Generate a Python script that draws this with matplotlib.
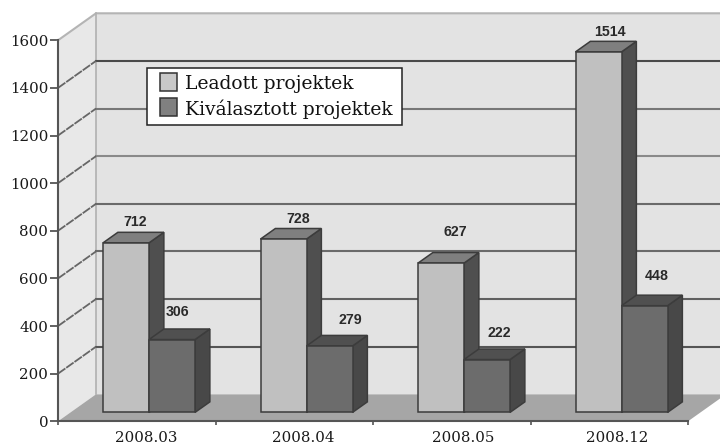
import matplotlib
matplotlib.use('Agg')
import matplotlib.pyplot as plt
from matplotlib.patches import Polygon, Rectangle

months = ['2008.03', '2008.04', '2008.05', '2008.12']
leadott = [712, 728, 627, 1514]
kivalasztott = [306, 279, 222, 448]
y_ticks = [0, 200, 400, 600, 800, 1000, 1200, 1400, 1600]
legend_labels = ['Leadott projektek', 'Kiválasztott projektek']

# pixel offsets of the value labels from the top left of each bar front
leadott_off = [(32, 21), (38, 20), (37, 31), (34, 20)]
kivalasztott_off = [(28, 28), (44, 26), (35, 27), (35, 30)]

W, H = 720, 447
AX_L, AX_B, AX_W, AX_H = 58, 25.7, 630, 381
PX_X = 4 / AX_W          # data units per pixel
PX_Y = 1600 / AX_H
DX, DY = 38 * PX_X, 27 * PX_Y   # chart depth
BAR_W = 46 * PX_X
MARGIN = 32.5 * PX_X
Z0, Z1 = 0.33, 0.72      # bar depth, as a share of chart depth

fig = plt.figure(figsize=(W / 100, H / 100), dpi=100, facecolor='white')
ax = fig.add_axes([AX_L / W, AX_B / H, AX_W / W, AX_H / H])
ax.set_xlim(0, 4)
ax.set_ylim(0, 1600)
ax.patch.set_visible(False)


def poly(points, color, z, edge='none', lw=0):
    ax.add_patch(Polygon(points, closed=True, facecolor=color, edgecolor=edge,
                         linewidth=lw, zorder=z, clip_on=False))


def bar3d(x, value, front, side, top, z):
    x0 = x + Z0 * DX
    x1 = x0 + BAR_W
    y0 = Z0 * DY
    y1 = y0 + value
    dx = (Z1 - Z0) * DX
    dy = (Z1 - Z0) * DY
    edge = '#3c3c3c'
    poly([(x1, y0), (x1 + dx, y0 + dy), (x1 + dx, y1 + dy), (x1, y1)], side, z, edge, 1.1)
    poly([(x0, y1), (x1, y1), (x1 + dx, y1 + dy), (x0 + dx, y1 + dy)], top, z, edge, 1.1)
    poly([(x0, y0), (x1, y0), (x1, y1), (x0, y1)], front, z, edge, 1.1)
    return x0, y1


def value_label(value, anchor, off):
    ax.annotate(str(value), anchor, xytext=(off[0] * 0.72, off[1] * 0.72),
                textcoords='offset points', ha='center', va='center', fontsize=10.2,
                fontweight='bold', family='Liberation Sans', color='#2a2a2a', zorder=10,
                annotation_clip=False)


def legend_rect(x0, y0, x1, y1, color, edge, z):
    # pixel box, y measured from the top of the image
    fig.add_artist(Rectangle((x0 / W, 1 - y1 / H), (x1 - x0) / W, (y1 - y0) / H,
                             transform=fig.transFigure, facecolor=color, edgecolor=edge,
                             linewidth=1.1, zorder=z))


# walls and floor
poly([(DX, DY), (4 + DX, DY), (4 + DX, 1600 + DY), (DX, 1600 + DY)], '#e3e3e3', 1)
poly([(0, 0), (DX, DY), (DX, 1600 + DY), (0, 1600)], '#e8e8e8', 1)
poly([(0, 0), (4, 0), (4 + DX, DY), (DX, DY)], '#a6a6a6', 2)
ax.plot([0, DX, 4 + DX], [1600, 1600 + DY, 1600 + DY], color='#b4b4b4', lw=1.5, zorder=2, clip_on=False)
ax.plot([DX, DX], [DY, 1600 + DY], color='#b0b0b0', lw=1.2, zorder=2, clip_on=False)

grid_colors = ['#555555', '#606060', '#6a6a6a', '#6a6a6a', '#8a8a8a', '#777777', '#4a4a4a']
for v, c in zip(y_ticks[1:-1], grid_colors):
    ax.plot([DX, 4 + DX], [v + DY, v + DY], color=c, lw=1.5, zorder=2, clip_on=False)
    ax.plot([0, DX], [v, v + DY], color='#666666', lw=1.3, zorder=2, clip_on=False,
            ls=(0, (5, 0.6)))

# bars
for i in range(len(months)):
    x = i + MARGIN
    x0, y1 = bar3d(x, leadott[i], '#c0c0c0', '#4f4f4f', '#7f7f7f', 3 + i)
    value_label(leadott[i], (x0, y1), leadott_off[i])
    x0, y1 = bar3d(x + BAR_W, kivalasztott[i], '#6c6c6c', '#484848', '#505050', 3 + i)
    value_label(kivalasztott[i], (x0, y1), kivalasztott_off[i])

# axes
for s in ['top', 'right']:
    ax.spines[s].set_visible(False)
for s in ['left', 'bottom']:
    ax.spines[s].set_color('#555555')
    ax.spines[s].set_linewidth(1.5)
    ax.spines[s].set_zorder(9)
ax.set_yticks(y_ticks)
ax.set_xticks(range(5))
ax.set_xticklabels([])
ax.set_xticks([0.56, 1.56, 2.57, 3.55], labels=months, minor=True)
ax.tick_params(axis='y', length=6, width=1.3, color='#555555', pad=1, labelsize=10.8,
               labelfontfamily='DejaVu Serif', labelcolor='#1a1a1a')
ax.tick_params(axis='x', which='major', length=3, width=1.2, color='#555555')
ax.tick_params(axis='x', which='minor', length=0, pad=7, labelsize=10.8,
               labelfontfamily='DejaVu Serif', labelcolor='#1a1a1a')

# legend, drawn by hand since its box is wider than a legend's even padding allows
legend_rect(147, 68, 402, 125, 'white', '#222222', 20)
legend_rect(160, 73, 177, 91, '#c8c8c8', '#333333', 21)
legend_rect(160, 98, 177, 116, '#808080', '#333333', 21)
for label, py in zip(legend_labels, [84, 109]):
    fig.text(185 / W, 1 - py / H, label, family='DejaVu Serif', fontsize=13.5, color='#111111',
             ha='left', va='center', zorder=22)

fig.savefig('out.png', dpi=100)
